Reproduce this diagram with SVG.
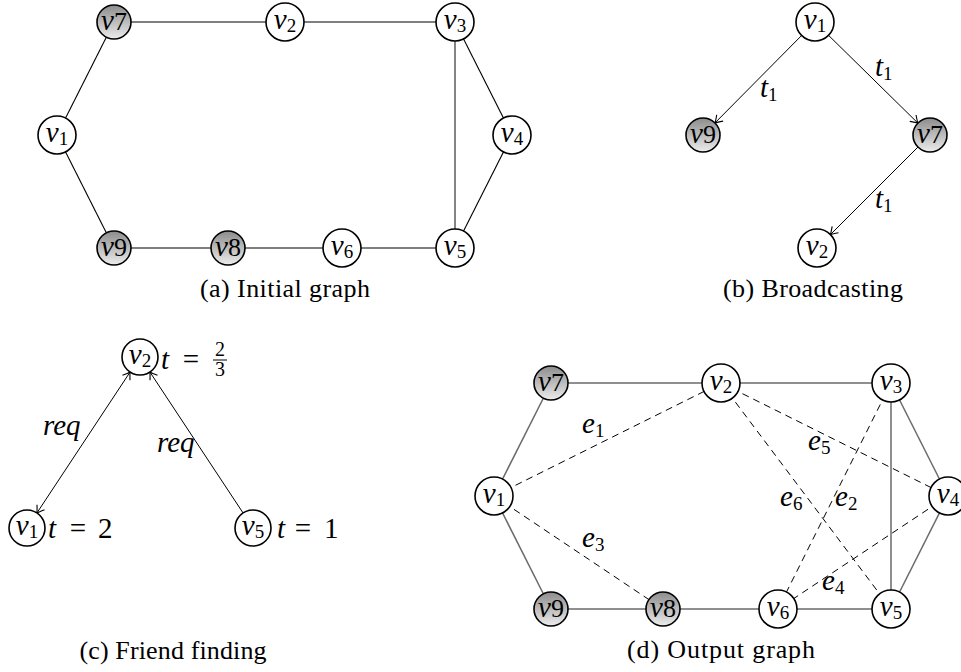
<svg xmlns="http://www.w3.org/2000/svg" width="961" height="672" viewBox="0 0 961 672" font-family="Liberation Serif, serif">
<style>
.n{fill:#fff;stroke:#000;stroke-width:1.6}
.s{fill:url(#sh);stroke:#000;stroke-width:1.6}
.e{stroke:#000;stroke-width:1.1;fill:none}
.eg{stroke:#777;stroke-width:1.8;fill:none}
.ed{stroke:#6a6a6a;stroke-width:1.5;fill:none}
.d{stroke:#000;stroke-width:1;stroke-dasharray:7 5;fill:none}
.ar{stroke:#000;stroke-width:1;fill:none;marker-end:url(#ah)}
.m{font-size:29px;fill:#000}
.i{font-style:italic}
.sb{font-size:19px;font-style:normal}
.cap{font-size:26px;fill:#000;text-anchor:middle}
</style>
<defs>
<linearGradient id="sh" x1="0" y1="0" x2="0" y2="1">
<stop offset="0" stop-color="#8c8c8c"/>
<stop offset="1" stop-color="#ececec"/>
</linearGradient>
<marker id="ah" viewBox="-9 -6 11 12" refX="0" refY="0" markerWidth="11" markerHeight="12" orient="auto-start-reverse" markerUnits="userSpaceOnUse">
<path d="M-7,-4.5 Q-2,-1 0,0 Q-2,1 -7,4.5" fill="none" stroke="#000" stroke-width="1.1"/>
</marker>
</defs>

<!-- Panel (a) -->
<g id="a-edges">
<line class="e" x1="114" y1="22" x2="285" y2="22"/>
<line class="e" x1="285" y1="22" x2="455" y2="22"/>
<line class="e" x1="114" y1="22" x2="57" y2="135"/>
<line class="e" x1="57" y1="135" x2="114" y2="248"/>
<line class="e" x1="114" y1="248" x2="228" y2="248"/>
<line class="e" x1="228" y1="248" x2="342" y2="248"/>
<line class="e" x1="342" y1="248" x2="455" y2="248"/>
<line class="e" x1="455" y1="248" x2="512" y2="135"/>
<line class="e" x1="512" y1="135" x2="455" y2="22"/>
<line class="eg" x1="455" y1="22" x2="455" y2="248"/>
</g>
<g id="a-v7"><circle class="s" cx="114" cy="22" r="17"/><text class="m" font-family="Liberation Serif" x="114" y="30" text-anchor="middle"><tspan class="i">v</tspan><tspan font-size="26">7</tspan></text></g>
<g id="a-v2"><circle class="n" cx="285" cy="22" r="19"/><text class="m" font-family="Liberation Serif" x="285" y="29" text-anchor="middle"><tspan class="i">v</tspan><tspan class="sb" dy="3">2</tspan></text></g>
<g id="a-v3"><circle class="n" cx="455" cy="22" r="19"/><text class="m" font-family="Liberation Serif" x="455" y="29" text-anchor="middle"><tspan class="i">v</tspan><tspan class="sb" dy="3">3</tspan></text></g>
<g id="a-v1"><circle class="n" cx="57" cy="135" r="19"/><text class="m" font-family="Liberation Serif" x="57" y="142" text-anchor="middle"><tspan class="i">v</tspan><tspan class="sb" dy="3">1</tspan></text></g>
<g id="a-v4"><circle class="n" cx="512" cy="135" r="19"/><text class="m" font-family="Liberation Serif" x="512" y="142" text-anchor="middle"><tspan class="i">v</tspan><tspan class="sb" dy="3">4</tspan></text></g>
<g id="a-v9"><circle class="s" cx="114" cy="248" r="17"/><text class="m" font-family="Liberation Serif" x="114" y="256" text-anchor="middle"><tspan class="i">v</tspan><tspan font-size="26">9</tspan></text></g>
<g id="a-v8"><circle class="s" cx="228" cy="248" r="17"/><text class="m" font-family="Liberation Serif" x="228" y="256" text-anchor="middle"><tspan class="i">v</tspan><tspan font-size="26">8</tspan></text></g>
<g id="a-v6"><circle class="n" cx="342" cy="248" r="19"/><text class="m" font-family="Liberation Serif" x="342" y="255" text-anchor="middle"><tspan class="i">v</tspan><tspan class="sb" dy="3">6</tspan></text></g>
<g id="a-v5"><circle class="n" cx="455" cy="248" r="19"/><text class="m" font-family="Liberation Serif" x="455" y="255" text-anchor="middle"><tspan class="i">v</tspan><tspan class="sb" dy="3">5</tspan></text></g>
<text class="cap" font-family="Liberation Serif" x="285" y="297" textLength="170">(a) Initial graph</text>

<!-- Panel (b) -->
<g id="b-edges">
<line class="ar" x1="801.6" y1="35.5" x2="715" y2="122.9"/>
<line class="ar" x1="828.5" y1="35.3" x2="917.9" y2="123.1"/>
<line class="ar" x1="918" y1="147" x2="830.4" y2="234.6"/>
<text class="m" font-family="Liberation Serif" x="760" y="97"><tspan class="i">t</tspan><tspan class="sb" dy="4">1</tspan></text>
<text class="m" font-family="Liberation Serif" x="875" y="76"><tspan class="i">t</tspan><tspan class="sb" dy="4">1</tspan></text>
<text class="m" font-family="Liberation Serif" x="875" y="208"><tspan class="i">t</tspan><tspan class="sb" dy="4">1</tspan></text>
</g>
<g id="b-v1"><circle class="n" cx="815" cy="22" r="19"/><text class="m" font-family="Liberation Serif" x="815" y="29" text-anchor="middle"><tspan class="i">v</tspan><tspan class="sb" dy="3">1</tspan></text></g>
<g id="b-v9"><circle class="s" cx="703" cy="135" r="17"/><text class="m" font-family="Liberation Serif" x="703" y="143" text-anchor="middle"><tspan class="i">v</tspan><tspan font-size="26">9</tspan></text></g>
<g id="b-v7"><circle class="s" cx="930" cy="135" r="17"/><text class="m" font-family="Liberation Serif" x="930" y="143" text-anchor="middle"><tspan class="i">v</tspan><tspan font-size="26">7</tspan></text></g>
<g id="b-v2"><circle class="n" cx="817" cy="248" r="19"/><text class="m" font-family="Liberation Serif" x="817" y="255" text-anchor="middle"><tspan class="i">v</tspan><tspan class="sb" dy="3">2</tspan></text></g>
<text class="cap" font-family="Liberation Serif" x="813" y="297" textLength="180">(b) Broadcasting</text>

<!-- Panel (c) -->
<g id="c-edges">
<line class="ar" x1="36.9" y1="513" x2="130.1" y2="372" style="marker-start:url(#ah)"/>
<line class="ar" x1="243.1" y1="513" x2="149.9" y2="372"/>
<text class="m i" font-family="Liberation Serif" x="43" y="435">req</text>
<text class="m i" font-family="Liberation Serif" x="157" y="452">req</text>
</g>
<g id="c-v2"><circle class="n" cx="140" cy="357" r="18"/><text class="m" font-family="Liberation Serif" x="140" y="364" text-anchor="middle"><tspan class="i">v</tspan><tspan class="sb" dy="3">2</tspan></text>
<text class="m i" font-family="Liberation Serif" x="161" y="369">t</text><text class="m" font-family="Liberation Serif" x="191" y="369" text-anchor="middle">=</text>
<text class="m" font-family="Liberation Serif" x="220" y="356" text-anchor="middle" style="font-size:20px">2</text>
<line x1="213" y1="360" x2="227" y2="360" stroke="#000" stroke-width="1"/>
<text class="m" font-family="Liberation Serif" x="220" y="376" text-anchor="middle" style="font-size:20px">3</text></g>
<g id="c-v1"><circle class="n" cx="27" cy="528" r="18"/><text class="m" font-family="Liberation Serif" x="27" y="535" text-anchor="middle"><tspan class="i">v</tspan><tspan class="sb" dy="3">1</tspan></text>
<text class="m i" font-family="Liberation Serif" x="48" y="538">t</text><text class="m" font-family="Liberation Serif" x="78" y="538" text-anchor="middle">=</text><text class="m" font-family="Liberation Serif" x="98" y="538">2</text></g>
<g id="c-v5"><circle class="n" cx="253" cy="528" r="18"/><text class="m" font-family="Liberation Serif" x="253" y="535" text-anchor="middle"><tspan class="i">v</tspan><tspan class="sb" dy="3">5</tspan></text>
<text class="m i" font-family="Liberation Serif" x="277" y="538">t</text><text class="m" font-family="Liberation Serif" x="303" y="538" text-anchor="middle">=</text><text class="m" font-family="Liberation Serif" x="324" y="538">1</text></g>
<text class="cap" font-family="Liberation Serif" x="173" y="659" textLength="187">(c) Friend finding</text>

<!-- Panel (d) -->
<g id="d-edges">
<line class="ed" x1="551" y1="383" x2="721" y2="383"/>
<line class="ed" x1="721" y1="383" x2="891" y2="383"/>
<line class="ed" x1="551" y1="383" x2="494" y2="496"/>
<line class="ed" x1="494" y1="496" x2="551" y2="609"/>
<line class="ed" x1="551" y1="609" x2="663" y2="609"/>
<line class="ed" x1="663" y1="609" x2="778" y2="609"/>
<line class="ed" x1="778" y1="609" x2="891" y2="609"/>
<line class="ed" x1="891" y1="609" x2="948" y2="496"/>
<line class="ed" x1="948" y1="496" x2="891" y2="383"/>
<line class="ed" x1="891" y1="383" x2="891" y2="609"/>
<line class="d" x1="494" y1="496" x2="721" y2="383"/>
<line class="d" x1="494" y1="496" x2="663" y2="609"/>
<line class="d" x1="721" y1="383" x2="948" y2="496"/>
<line class="d" x1="721" y1="383" x2="891" y2="609"/>
<line class="d" x1="891" y1="383" x2="778" y2="609"/>
<line class="d" x1="948" y1="496" x2="778" y2="609"/>
<text class="m" font-family="Liberation Serif" x="582" y="433"><tspan class="i">e</tspan><tspan class="sb" dy="4">1</tspan></text>
<text class="m" font-family="Liberation Serif" x="808" y="450"><tspan class="i">e</tspan><tspan class="sb" dy="4">5</tspan></text>
<text class="m" font-family="Liberation Serif" x="780" y="506"><tspan class="i">e</tspan><tspan class="sb" dy="4">6</tspan></text>
<text class="m" font-family="Liberation Serif" x="835" y="506"><tspan class="i">e</tspan><tspan class="sb" dy="4">2</tspan></text>
<text class="m" font-family="Liberation Serif" x="582" y="547"><tspan class="i">e</tspan><tspan class="sb" dy="4">3</tspan></text>
<text class="m" font-family="Liberation Serif" x="822" y="590"><tspan class="i">e</tspan><tspan class="sb" dy="4">4</tspan></text>
</g>
<g id="d-v7"><circle class="s" cx="551" cy="383" r="17"/><text class="m" font-family="Liberation Serif" x="551" y="391" text-anchor="middle"><tspan class="i">v</tspan><tspan font-size="26">7</tspan></text></g>
<g id="d-v2"><circle class="n" cx="721" cy="383" r="19"/><text class="m" font-family="Liberation Serif" x="721" y="390" text-anchor="middle"><tspan class="i">v</tspan><tspan class="sb" dy="3">2</tspan></text></g>
<g id="d-v3"><circle class="n" cx="891" cy="383" r="19"/><text class="m" font-family="Liberation Serif" x="891" y="390" text-anchor="middle"><tspan class="i">v</tspan><tspan class="sb" dy="3">3</tspan></text></g>
<g id="d-v1"><circle class="n" cx="494" cy="496" r="19"/><text class="m" font-family="Liberation Serif" x="494" y="503" text-anchor="middle"><tspan class="i">v</tspan><tspan class="sb" dy="3">1</tspan></text></g>
<g id="d-v4"><circle class="n" cx="948" cy="496" r="19"/><text class="m" font-family="Liberation Serif" x="948" y="503" text-anchor="middle"><tspan class="i">v</tspan><tspan class="sb" dy="3">4</tspan></text></g>
<g id="d-v9"><circle class="s" cx="551" cy="609" r="17"/><text class="m" font-family="Liberation Serif" x="551" y="617" text-anchor="middle"><tspan class="i">v</tspan><tspan font-size="26">9</tspan></text></g>
<g id="d-v8"><circle class="s" cx="663" cy="609" r="17"/><text class="m" font-family="Liberation Serif" x="663" y="617" text-anchor="middle"><tspan class="i">v</tspan><tspan font-size="26">8</tspan></text></g>
<g id="d-v6"><circle class="n" cx="778" cy="609" r="19"/><text class="m" font-family="Liberation Serif" x="778" y="616" text-anchor="middle"><tspan class="i">v</tspan><tspan class="sb" dy="3">6</tspan></text></g>
<g id="d-v5"><circle class="n" cx="891" cy="609" r="19"/><text class="m" font-family="Liberation Serif" x="891" y="616" text-anchor="middle"><tspan class="i">v</tspan><tspan class="sb" dy="3">5</tspan></text></g>
<text class="cap" font-family="Liberation Serif" x="721" y="658" textLength="188">(d) Output graph</text>
</svg>
